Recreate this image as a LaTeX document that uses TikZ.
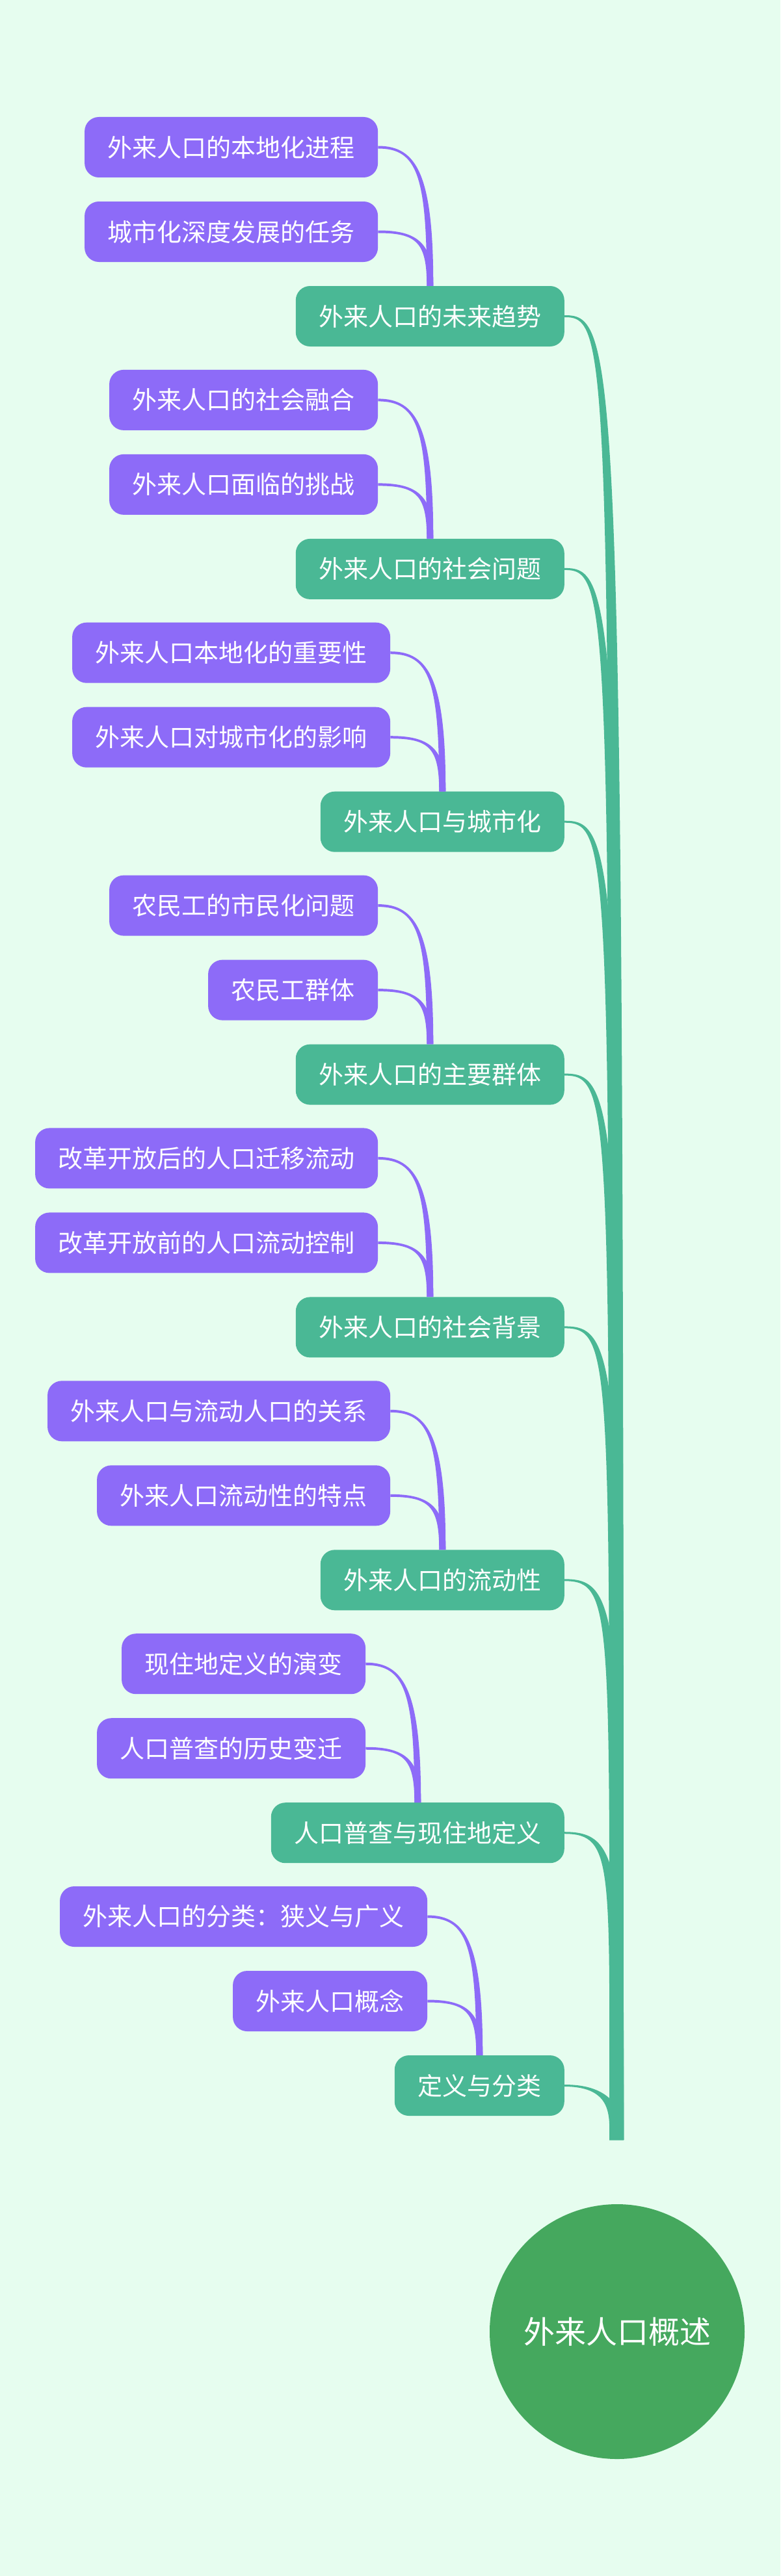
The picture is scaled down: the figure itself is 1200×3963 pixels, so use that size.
\documentclass[tikz,border=0pt]{standalone}
\usepackage{fontspec}
\newfontfamily\cjkfont{Noto Sans CJK SC}
\usepackage{tikz}
\usetikzlibrary{calc, positioning}
\definecolor{MapMint}{HTML}{E6FDEF}
\definecolor{MapPurple}{HTML}{8D6BF8}
\definecolor{MapTeal}{HTML}{4AB895}
\definecolor{MapGreen}{HTML}{45A85E}
\tikzset{
    % Node styles
    rootnode/.style={
        circle,
        fill=MapGreen,
        text=white,
        minimum size=392pt,
        inner sep=0pt,
        font=\cjkfont\fontsize{48}{52}\selectfont
    },
    topicbox/.style={
        rectangle,
        rounded corners=22pt,
        fill=MapTeal,
        text=white,
        minimum height=93pt,
        inner xsep=35.5pt,
        inner ysep=0pt,
        anchor=east,
        font=\cjkfont\fontsize{38}{42}\selectfont
    },
    leafbox/.style={
        topicbox,
        fill=MapPurple
    },
    % Connector styles
    topicline/.style={fill=MapTeal},
    leafline/.style={fill=MapPurple}
}
% tapered leaf connector: leaf east -> topic north
\newcommand{\leaflink}[2]{%
    \fill[leafline] let \p1=(#1.east), \p2=(#2.north) in
        (\x1,\y1+2pt) .. controls ({\x1+0.75*(\x2-\x1)},\y1+2pt) and (\x2+5pt,{\y1-0.2*(\y1-\y2)}) .. (\x2+5pt,\y2)
        -- (\x2-5pt,\y2) .. controls (\x2-5pt,{\y1-0.2*(\y1-\y2)}) and ({\x1+0.75*(\x2-\x1)},\y1-2pt) .. (\x1,\y1-2pt) -- cycle;
}
% tapered topic connector: topic east -> stem
\newcommand{\topiclink}[2]{%
    \fill[topicline] let \p1=(#1.east), \p2=(#2) in
        (\x1,\y1+1.5pt) .. controls (\x2+4pt,\y1+1.5pt) and (\x2+11pt,\y1-50pt) .. (\x2+11pt,\y2)
        -- (\x2-11pt,\y2) .. controls (\x2-11pt,\y1-50pt) and (\x2-4pt,\y1-1.5pt) .. (\x1,\y1-1.5pt) -- cycle;
}

\begin{document}
\begin{tikzpicture}[x=1pt, y=-1pt]
    % Canvas
    \fill[MapMint] (0,0) rectangle (1200,3963);
    \useasboundingbox (0,0) rectangle (1200,3963);

    % Root
    \node[rootnode] (root) at (949,3587) {外来人口概述};
    \coordinate (stem) at (948,3292);

    % Topics
    \node[topicbox] (t1) at (868,486.5) {外来人口的未来趋势};
    \node[topicbox] (t2) at (868,875.4) {外来人口的社会问题};
    \node[topicbox] (t3) at (868,1264.2) {外来人口与城市化};
    \node[topicbox] (t4) at (868,1653.1) {外来人口的主要群体};
    \node[topicbox] (t5) at (868,2041.9) {外来人口的社会背景};
    \node[topicbox] (t6) at (868,2430.8) {外来人口的流动性};
    \node[topicbox] (t7) at (868,2819.7) {人口普查与现住地定义};
    \node[topicbox] (t8) at (868,3208.5) {定义与分类};

    % Leaves of topic 1
    \node[leafbox] (l1a) at ($(t1.center)+(-80,-260)$) {外来人口的本地化进程};
    \node[leafbox] (l1b) at ($(t1.center)+(-80,-130)$) {城市化深度发展的任务};

    % Leaves of topic 2
    \node[leafbox] (l2a) at ($(t2.center)+(-80,-260)$) {外来人口的社会融合};
    \node[leafbox] (l2b) at ($(t2.center)+(-80,-130)$) {外来人口面临的挑战};

    % Leaves of topic 3
    \node[leafbox] (l3a) at ($(t3.center)+(-80,-260)$) {外来人口本地化的重要性};
    \node[leafbox] (l3b) at ($(t3.center)+(-80,-130)$) {外来人口对城市化的影响};

    % Leaves of topic 4
    \node[leafbox] (l4a) at ($(t4.center)+(-80,-260)$) {农民工的市民化问题};
    \node[leafbox] (l4b) at ($(t4.center)+(-80,-130)$) {农民工群体};

    % Leaves of topic 5
    \node[leafbox] (l5a) at ($(t5.center)+(-80,-260)$) {改革开放后的人口迁移流动};
    \node[leafbox] (l5b) at ($(t5.center)+(-80,-130)$) {改革开放前的人口流动控制};

    % Leaves of topic 6
    \node[leafbox] (l6a) at ($(t6.center)+(-80,-260)$) {外来人口与流动人口的关系};
    \node[leafbox] (l6b) at ($(t6.center)+(-80,-130)$) {外来人口流动性的特点};

    % Leaves of topic 7
    \node[leafbox] (l7a) at ($(t7.center)+(-80,-260)$) {现住地定义的演变};
    \node[leafbox] (l7b) at ($(t7.center)+(-80,-130)$) {人口普查的历史变迁};

    % Leaves of topic 8
    \node[leafbox] (l8a) at ($(t8.center)+(-80,-260)$) {外来人口的分类：狭义与广义};
    \node[leafbox] (l8b) at ($(t8.center)+(-80,-130)$) {外来人口概念};

    % Connectors
    \foreach \i in {1,...,8} {
        \topiclink{t\i}{stem}
        \leaflink{l\i a}{t\i}
        \leaflink{l\i b}{t\i}
    }
\end{tikzpicture}
\end{document}
